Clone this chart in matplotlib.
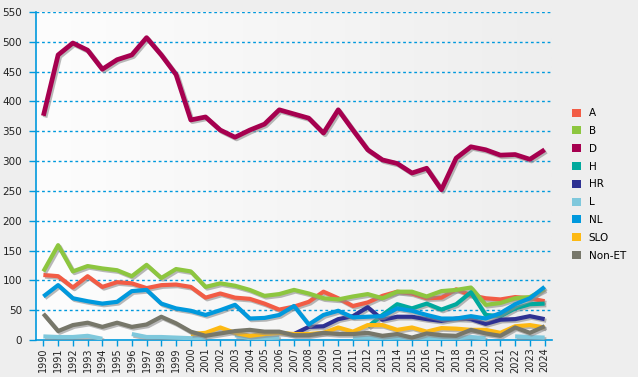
import numpy as np
import matplotlib
matplotlib.use("Agg")
import matplotlib.pyplot as plt
import matplotlib.patheffects as pe
from matplotlib.patches import Patch

nan = np.nan
years = list(range(1990, 2025))

A = [109, 107, 88, 107, 89, 97, 95, 87, 92, 93,
     89, 71, 78, 71, 69, 61, 51, 56, 64, 81,
     70, 57, 63, 74, 81, 78, 70, 71, 85, 75,
     70, 68, 72, 70, 65]
B = [115, 159, 115, 124, 120, 117, 107, 126, 104, 119,
     115, 89, 95, 91, 84, 74, 77, 84, 78, 70,
     68, 73, 77, 70, 81, 81, 73, 82, 84, 88,
     59, 62, 70, 72, 85]
D = [376, 478, 498, 486, 454, 470, 478, 507, 478, 445,
     369, 374, 352, 340, 352, 362, 386, 379, 372, 347,
     386, 352, 319, 302, 296, 280, 288, 252, 305, 324,
     319, 310, 311, 303, 319]
H = [nan] * 22 + [22, 42, 60, 53, 61, 51, 60, 80, 42, 40, 53, 60, 61]
HR = [nan] * 17 + [10, 22, 23, 35, 40, 55, 34, 39, 39, 35, 32, 36, 35, 27, 34, 35, 40, 35]
L = [6, 5, 5, 7, 2, nan, 10, 5, 5, 4,
     3, 4, nan, 8, 3, 3, 4, nan, nan, nan,
     nan, 4, 4, 3, 4, 3, 3, 3, 3, 5,
     3, nan, 6, 5, 4]
NL = [73, 92, 70, 65, 61, 64, 82, 84, 61, 53,
      49, 42, 50, 59, 36, 37, 42, 57, 26, 42,
      49, 38, 39, 40, 53, 49, 42, 36, 36, 40,
      36, 45, 60, 70, 89]
SLO = [nan] * 10 + [10, 12, 21, 12, 7, 10, 12, 10, 10, 12,
                    21, 14, 25, 25, 17, 21, 14, 20, 19, 17,
                    17, 12, 23, 25, 21]
NonET = [44, 15, 25, 29, 22, 29, 22, 26, 39, 28,
         14, 7, 11, 15, 17, 14, 14, 8, 8, 12,
         10, 10, 12, 7, 10, 4, 11, 8, 7, 17,
         11, 7, 21, 12, 23]

names = ["A", "B", "D", "H", "HR", "L", "NL", "SLO", "Non-ET"]
series = [A, B, D, H, HR, L, NL, SLO, NonET]
colors = ["#F25C45", "#8DC63F", "#A6004F", "#00A99D", "#2E3192",
          "#7FC8DC", "#0099DD", "#FDB913", "#77776A"]

blue = "#0099DD"

fig = plt.figure(figsize=(6.38, 3.77), dpi=100, facecolor="#EEEEEE")
ax = fig.add_axes([36 / 638, 37 / 377, 516 / 638, 328 / 377])
ax.set_facecolor("#EEEEEE")

# horizontal gradient background of the plot area
grad = np.linspace(0, 1, 256).reshape(1, -1)
ax.imshow(grad, extent=[0, 1, 0, 1], transform=ax.transAxes, aspect="auto",
          cmap=matplotlib.colors.LinearSegmentedColormap.from_list("bg", ["#FDFDFD", "#EEEEEE"]),
          zorder=0)

for val in range(50, 551, 50):
    ax.axhline(val, color=blue, lw=1, ls=(0, (2, 2)), zorder=1)

shadow = [pe.SimpleLineShadow(offset=(1.2, -1.2), shadow_color="0.55", alpha=0.6), pe.Normal()]
for name, vals, c in zip(names, series, colors):
    lw = 3.4 if name == "D" else 3.0
    ax.plot(years, vals, color=c, lw=lw, solid_capstyle="butt", solid_joinstyle="round",
            path_effects=shadow, zorder=3)

ax.set_xlim(1989.5, 2024.5)
ax.set_ylim(0, 550)
ax.set_xticks(years)
ax.set_xticklabels([str(y) for y in years], rotation=90, fontsize=7, color="#222222")
ax.set_yticks(range(0, 551, 50))
ax.set_yticklabels([str(v) for v in range(0, 551, 50)], fontsize=7.5, color="#222222")
ax.tick_params(axis="x", direction="out", length=4, width=1, color=blue, pad=1.5)
ax.tick_params(axis="y", direction="out", length=5, width=1, color=blue, pad=5)

for s in ["top", "right"]:
    ax.spines[s].set_visible(False)
for s in ["left", "bottom"]:
    ax.spines[s].set_color(blue)
    ax.spines[s].set_linewidth(1.2)

handles = [Patch(facecolor=c, edgecolor="none") for c in colors]
fig.legend(handles, names, loc="upper left", bbox_to_anchor=(568 / 638, 1 - 104 / 377),
           frameon=False, fontsize=7.5, handlelength=0.8, handleheight=0.8,
           handletextpad=0.8, labelspacing=0.75, borderaxespad=0)

fig.savefig("out.png", dpi=100, facecolor=fig.get_facecolor())
